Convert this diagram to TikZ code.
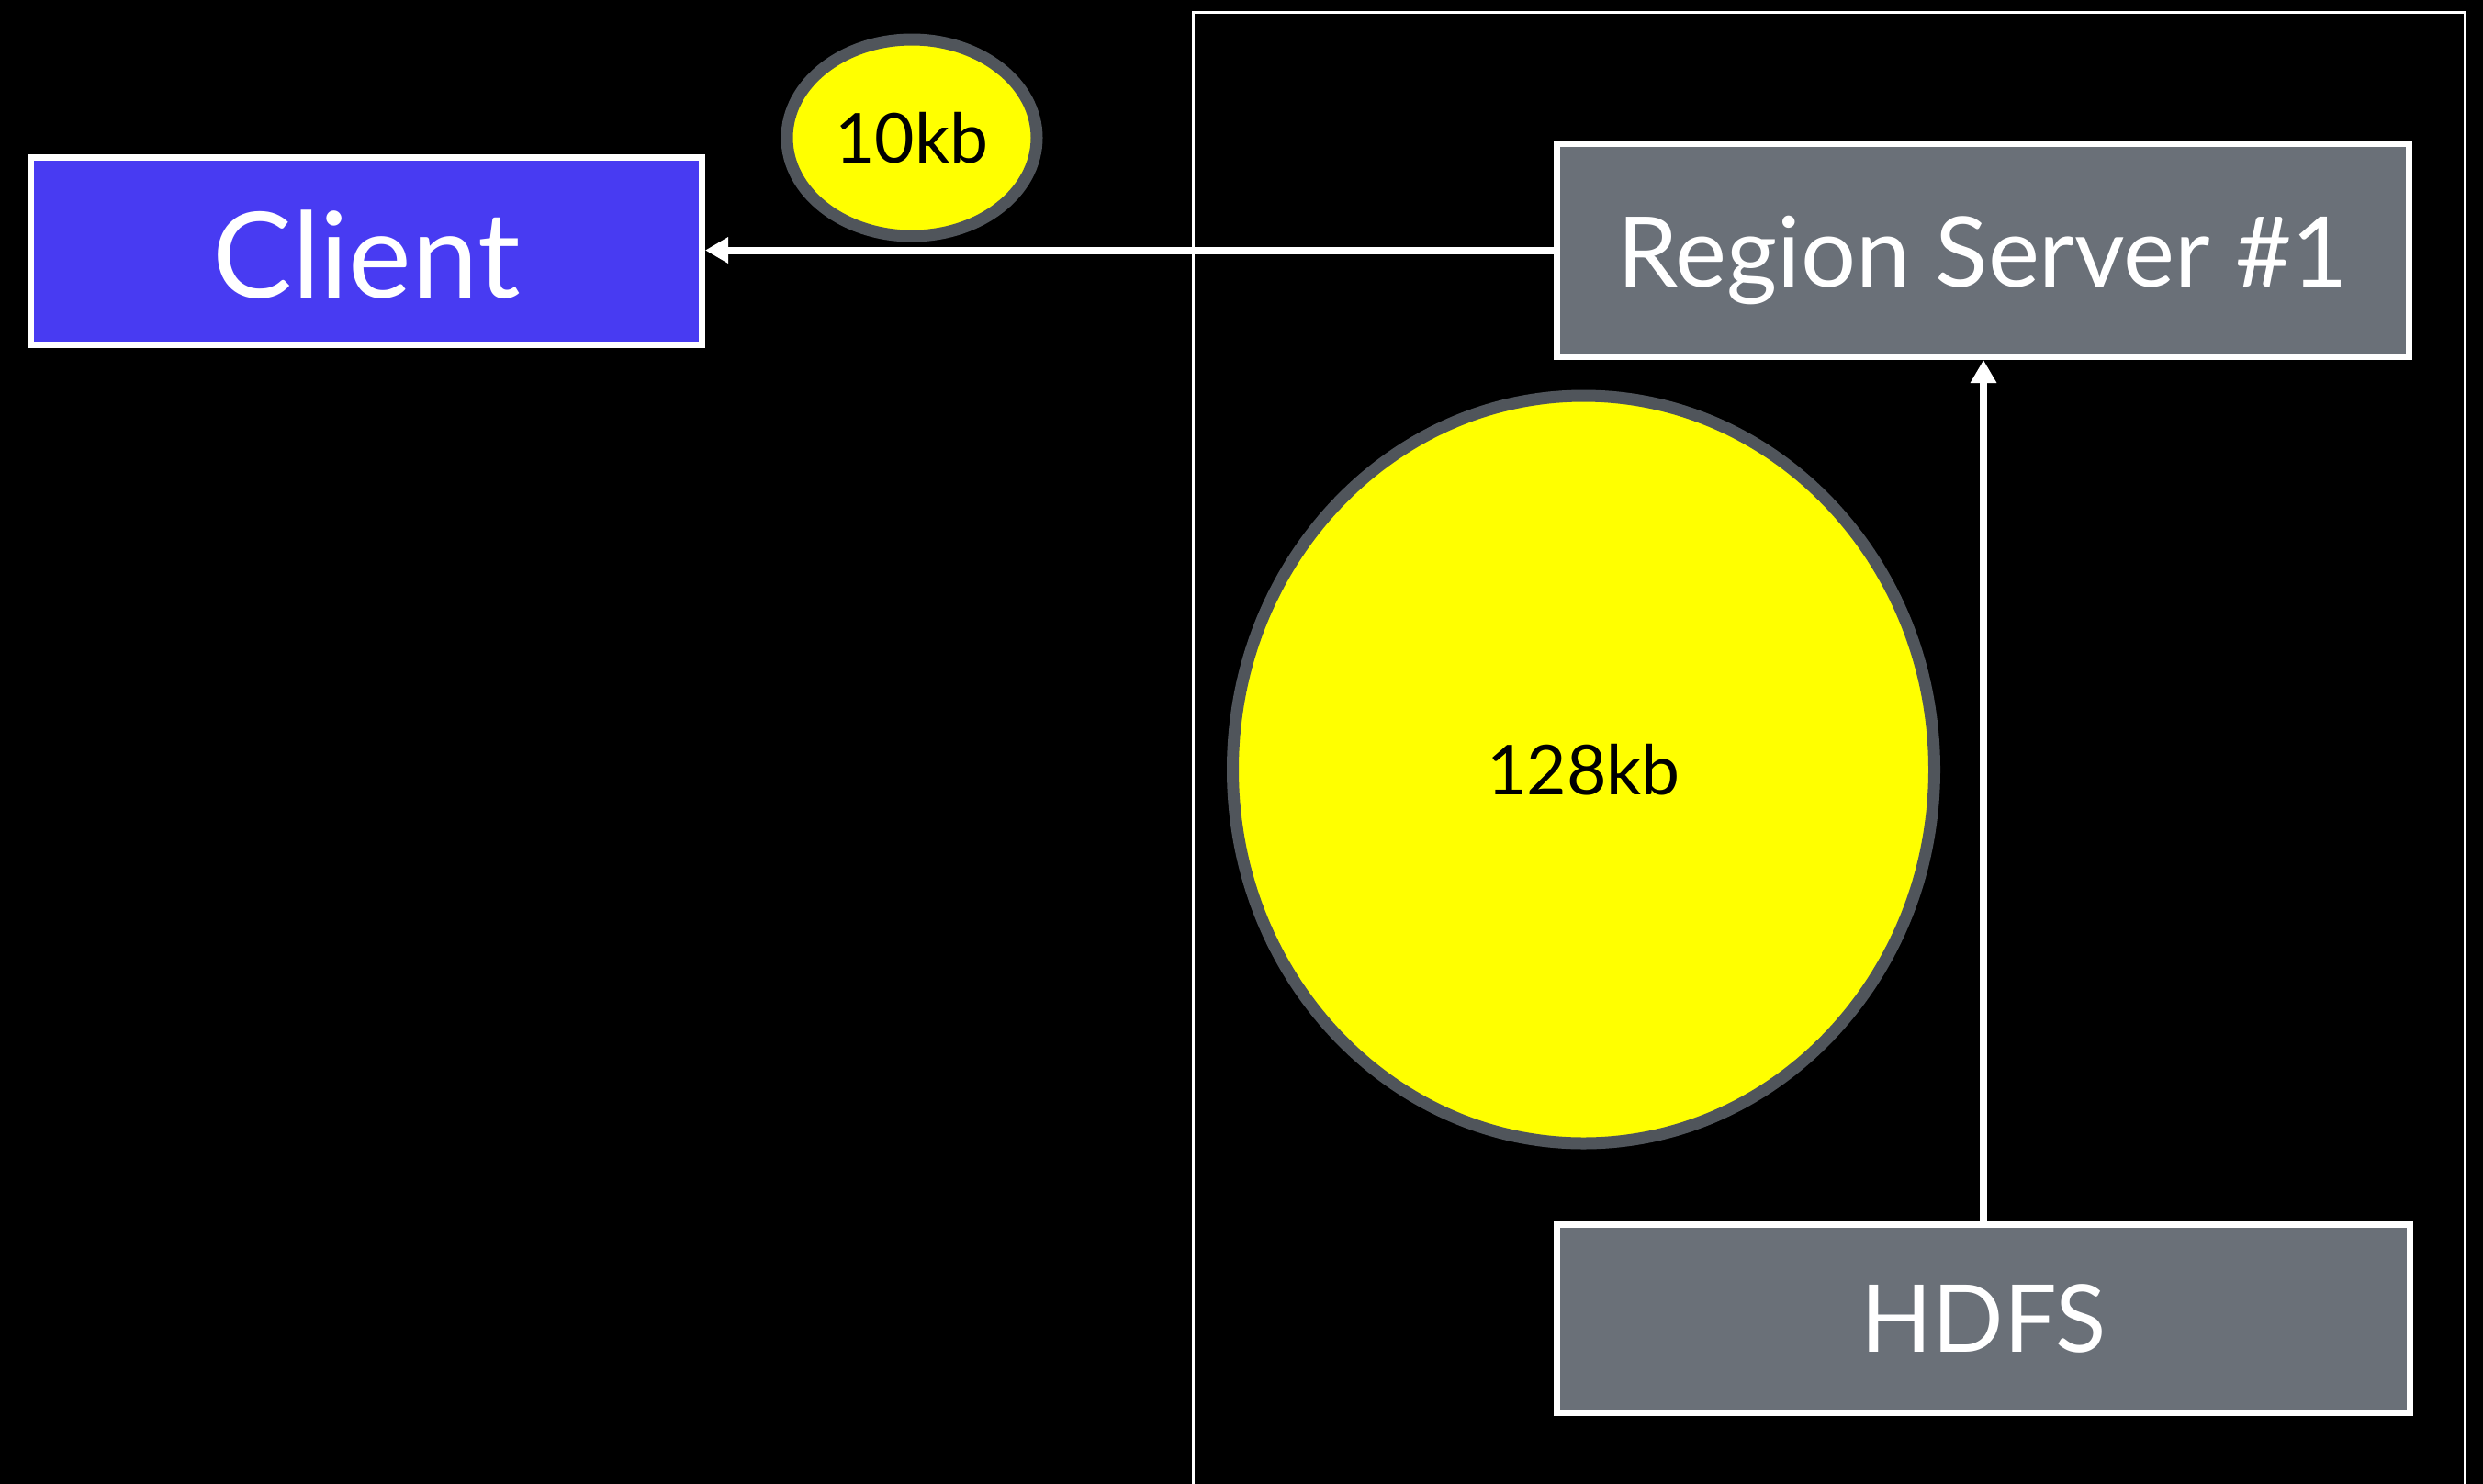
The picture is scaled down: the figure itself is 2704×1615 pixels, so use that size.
\documentclass[tikz,border=0pt]{standalone}
\usepackage{fontspec}
\setmainfont{Lato}
\usetikzlibrary{shapes.geometric,arrows.meta}
\definecolor{clientblue}{HTML}{483BF2}
\definecolor{servergray}{HTML}{6A7078}
\definecolor{blockyellow}{HTML}{FFFF00}
\definecolor{blockrim}{HTML}{50555B}
\tikzset{
  box/.style={draw=white, line width=7pt, inner sep=0pt, text=white, text depth=0pt},
  block/.style={ellipse, draw=blockrim, fill=blockyellow, line width=13pt, inner sep=0pt,
                text=black, text depth=0pt},
  flow/.style={white, line width=8pt, -{Triangle[length=25pt,width=27pt]}},
  % font size with the text box cut to the cap height, so capitals sit centred
  capfont/.style={font=\fontsize{#1}{#1}\selectfont, text height=0.72*#1 pt}
}
\begin{document}
\begin{tikzpicture}[x=1pt,y=-1pt]
  % canvas
  \useasboundingbox (0,0) rectangle (2704,1615);
  \fill[black] (-20,-20) rectangle (2724,1635);
  \begin{scope}
    \clip (-20,-20) rectangle (2724,1635);
    % region server host frame, open at the bottom
    \draw[white, line width=3pt] (1299,1660) |- (2684,13) -- (2684,1660);
  \end{scope}

  % components
  \node[box, fill=clientblue, minimum width=731pt, minimum height=204pt,
        capfont=130] (client) at (399,273.5) {\raisebox{-4pt}{Client}};
  \node[box, fill=servergray, minimum width=928pt, minimum height=232pt,
        capfont=106] (rs) at (2159.5,272.5) {\raisebox{-2pt}{Region Server \#1}};
  \node[box, fill=servergray, minimum width=929pt, minimum height=205pt,
        capfont=102] (hdfs) at (2160,1436) {HDFS};

  % data blocks
  \node[block, minimum width=272pt, minimum height=214pt,
        capfont=75] (small) at (993,150) {10kb};
  \node[block, minimum width=764pt, minimum height=814pt,
        capfont=75] (big) at (1724.5,838) {128kb};

  % data flow
  \draw[flow] (rs.west) -- (client.east |- rs.west);
  \draw[flow] (hdfs.north) -- (hdfs.north |- rs.south);
\end{tikzpicture}
\end{document}
